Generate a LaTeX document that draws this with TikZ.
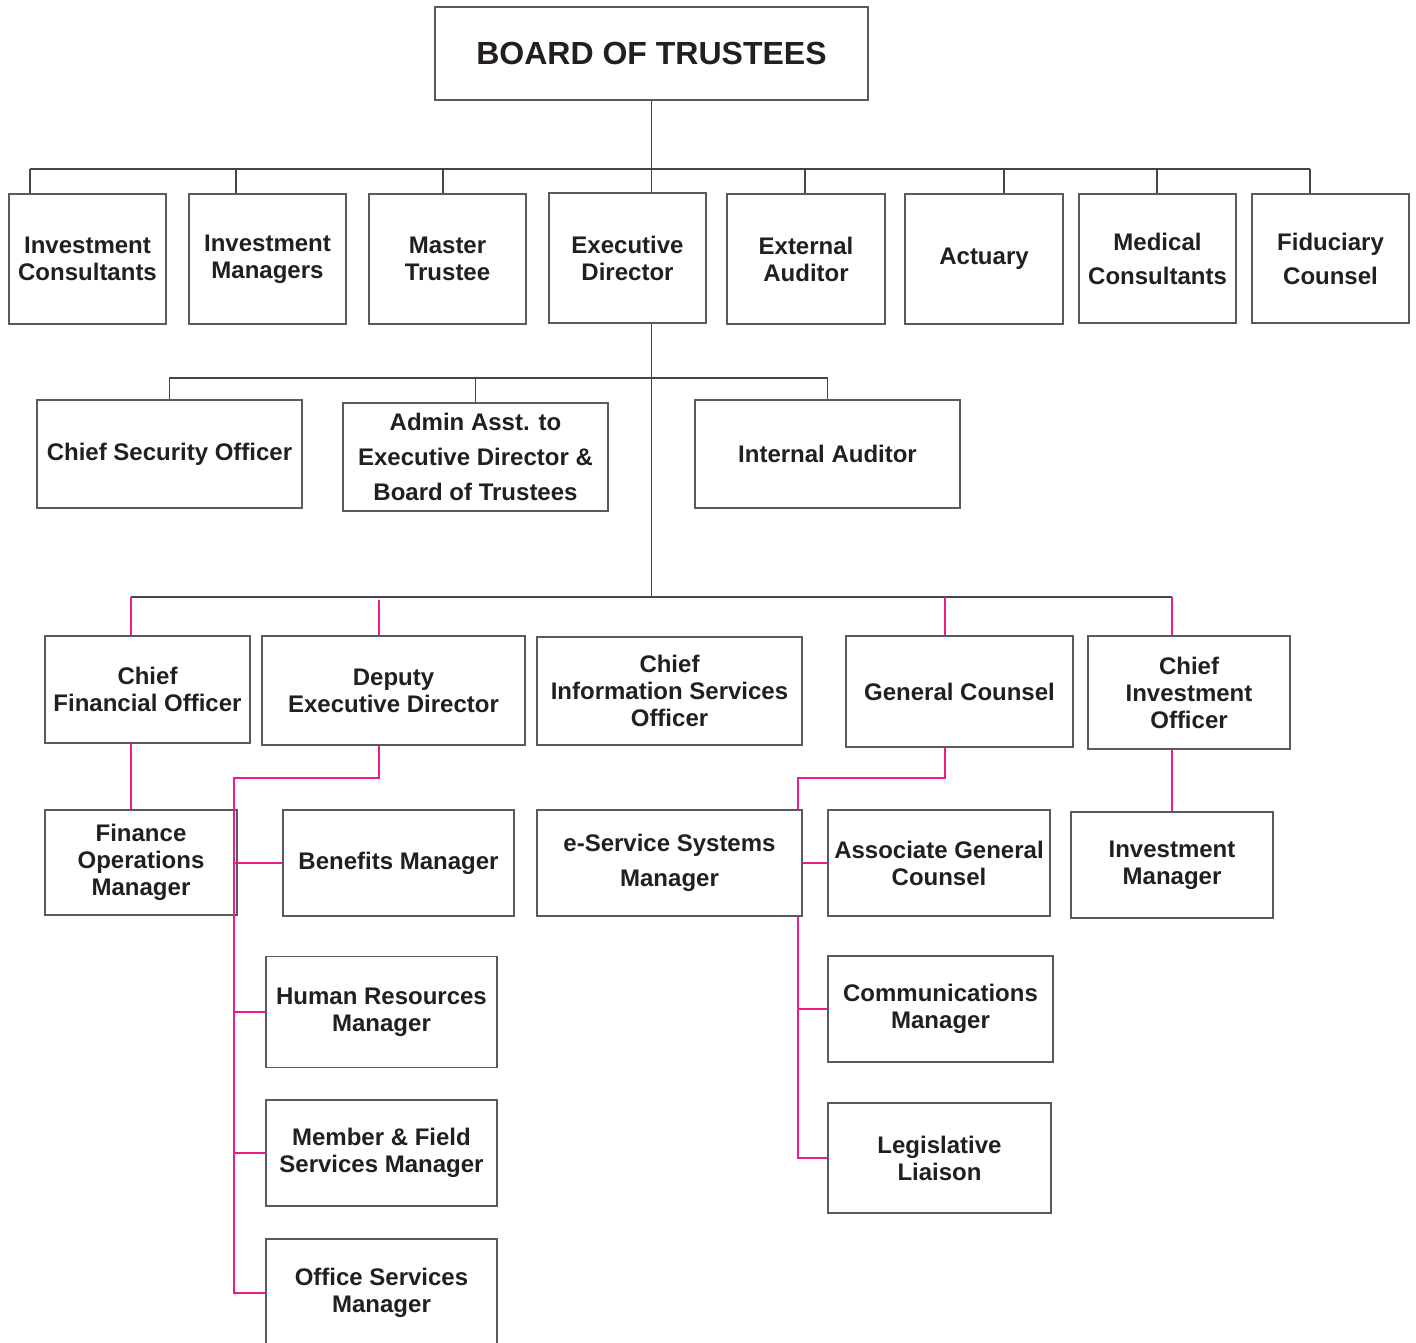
\documentclass[tikz,border=0pt]{standalone}
\usepackage{fontspec}
\setmainfont{Liberation Sans}
\definecolor{ink}{HTML}{231F20}
\definecolor{frame}{HTML}{5A5A5A}
\definecolor{rule}{HTML}{454545}
\definecolor{magline}{HTML}{EC1C8C}
\tikzset{
  box/.style={draw=frame, line width=1.4pt, align=center, inner sep=0pt,
    text=ink, font=\bfseries\fontsize{24}{27}\selectfont},
  link/.style={draw=rule, line width=1.3pt},
  plink/.style={draw=magline, line width=1.5pt},
}

\begin{document}
\begin{tikzpicture}[x=1pt, y=-1pt]
  \useasboundingbox (0,0) rectangle (1416,1343);

  % board and first row
  \node [box, minimum width=433, minimum height=93, font=\bfseries\fontsize{32}{35}\selectfont] (board) at (651.5,53.5) {BOARD OF TRUSTEES};

  \node [box, minimum width=157, minimum height=130] (ic) at (87.5,259) {Investment\\Consultants};
  \node [box, minimum width=157, minimum height=130] (im) at (267.5,259) {Investment\\Managers};
  \node [box, minimum width=157, minimum height=130] (mt) at (447.5,259) {Master\\Trustee};
  \node [box, minimum width=157, minimum height=130] (ed) at (627.5,258) {Executive\\Director};
  \node [box, minimum width=158, minimum height=130] (ea) at (806,259) {External\\Auditor};
  \node [box, minimum width=158, minimum height=130] (ac) at (984,259) {Actuary};
  \node [box, minimum width=157, minimum height=129] (mc) at (1157.5,258.5) {Medical\\[7pt]Consultants};
  \node [box, minimum width=157, minimum height=129] (fc) at (1330.5,258.5) {Fiduciary\\[7pt]Counsel};

  % staff of the executive director
  \node [box, minimum width=265, minimum height=108] (cso) at (169.5,454) {Chief Security Officer};
  \node [box, minimum width=265, minimum height=108] (aa) at (475.5,457) {Admin Asst. to\\[8pt]Executive Director \&\\[8pt]Board of Trustees};
  \node [box, minimum width=265, minimum height=108] (ia) at (827.5,454) {Internal Auditor};

  % division heads
  \node [box, minimum width=205, minimum height=107] (cfo) at (147.5,689.5) {Chief\\Financial Officer};
  \node [box, minimum width=263, minimum height=109] (ded) at (393.5,690.5) {Deputy\\Executive Director};
  \node [box, minimum width=265, minimum height=108] (cis) at (669.5,691) {Chief\\Information Services\\Officer};
  \node [box, minimum width=227, minimum height=111] (gc) at (959.5,691.5) {General Counsel};
  \node [box, minimum width=202, minimum height=113] (cio) at (1189,692.5) {Chief\\Investment\\Officer};

  % managers
  \node [box, minimum width=192, minimum height=105] (fom) at (141,862.5) {Finance\\Operations\\Manager};
  \node [box, minimum width=231, minimum height=106] (bm) at (398.5,863) {Benefits Manager};
  \node [box, minimum width=231, minimum height=111] (hr) at (381.5,1012) {Human Resources\\Manager};
  \node [box, minimum width=231, minimum height=106] (mf) at (381.5,1153) {Member \& Field\\Services Manager};
  \node [box, minimum width=231, minimum height=108] (os) at (381.5,1293) {Office Services\\Manager};

  \node [box, minimum width=265, minimum height=106] (es) at (669.5,863) {e-Service Systems\\[8pt]Manager};
  \node [box, minimum width=222, minimum height=106] (agc) at (939,863) {Associate General\\Counsel};
  \node [box, minimum width=225, minimum height=106] (cm) at (940.5,1009) {Communications\\Manager};
  \node [box, minimum width=223, minimum height=110] (ll) at (939.5,1158) {Legislative\\Liaison};
  \node [box, minimum width=202, minimum height=106] (inm) at (1172,865) {Investment\\Manager};

  % black connectors
  \coordinate (bar1) at (0,169);
  \coordinate (bar2) at (0,378);
  \coordinate (bar3) at (0,597);
  \draw [link] (board.south) -- (board.south |- ed.north);
  \draw [link] (bar1 -| 30,0) -- (bar1 -| 1310,0);
  \foreach \n/\x in {ic/30, im/236, mt/443, ea/805, ac/1004, mc/1157, fc/1310}
    \draw [link] (bar1 -| \x,0) -- (\x,0 |- \n.north);
  \draw [link] (board.south |- ed.south) -- (board.south |- bar3);
  \draw [link] (cso.north) |- (bar2 -| ia.north) -- (ia.north);
  \draw [link] (aa.north) -- (aa.north |- bar2);
  \draw [link] (bar3 -| 131,0) -- (bar3 -| 1172,0);

  % magenta connectors
  \foreach \n/\x in {cfo/131, gc/945, cio/1172}
    \draw [plink] (bar3 -| \x,0) -- (\x,0 |- \n.north);
  \draw [plink] (379,600) -- (379,0 |- ded.north);
  \draw [plink] (131,0 |- cfo.south) -- (131,0 |- fom.north);
  \draw [plink] (cio.south -| inm.north) -- (inm.north);

  \coordinate (lspine) at (234,778);
  \draw [plink] (379,0 |- ded.south) |- (lspine) |- (os.west);
  \foreach \n in {bm, hr, mf}
    \draw [plink] (lspine |- \n.west) -- (\n.west);

  \coordinate (rspine) at (798,778);
  \draw [plink] (945,0 |- gc.south) |- (rspine) -- (rspine |- es.north);
  \draw [plink] (rspine |- es.south) |- (ll.west);
  \draw [plink] (es.east |- agc.west) -- (agc.west);
  \draw [plink] (rspine |- cm.west) -- (cm.west);
\end{tikzpicture}
\end{document}
